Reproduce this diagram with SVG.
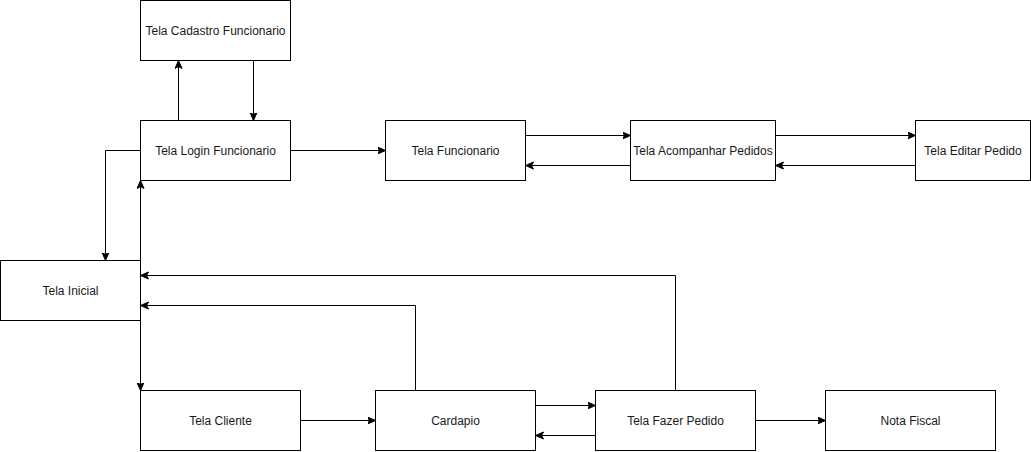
<svg xmlns="http://www.w3.org/2000/svg" width="1031" height="452" viewBox="0 0 1031 452">
<style>
.n rect{fill:#fff;stroke:#000;stroke-width:1}
.n text{font-family:"Liberation Sans",Arial,sans-serif;font-size:12px;fill:#1a1a1a;text-anchor:middle;dominant-baseline:central}
.e path{fill:none;stroke:#000;stroke-width:1;marker-end:url(#ah)}
</style>
<defs>
<marker id="ah" markerWidth="10" markerHeight="10" refX="8" refY="4" orient="auto" markerUnits="userSpaceOnUse">
<path d="M0,0.5 L8,4 L0,7.5 L2,4 Z" fill="#000" stroke="#000" stroke-width="1"/>
</marker>
</defs>
<rect width="1031" height="452" fill="#fff"/>
<g class="e" id="connectors">
<path d="M178.5,120.5 V60.5"/>
<path d="M253.5,60.5 V120.5"/>
<path d="M140.5,150.5 H105.5 V260.5"/>
<path d="M140.5,260.5 V180.5"/>
<path d="M140.5,320.5 V390.5"/>
<path d="M290.5,150.5 H385.5"/>
<path d="M525.5,135.5 H630.5"/>
<path d="M630.5,165.5 H525.5"/>
<path d="M775.5,135.5 H915.5"/>
<path d="M915.5,165.5 H775.5"/>
<path d="M415.5,390.5 V305.5 H140.5"/>
<path d="M675.5,390.5 V275.5 H140.5"/>
<path d="M300.5,420.5 H375.5"/>
<path d="M535.5,405.5 H595.5"/>
<path d="M595.5,435.5 H535.5"/>
<path d="M755.5,420.5 H825.5"/>
</g>
<g class="n" id="cadastro"><rect x="140.5" y="0.5" width="150" height="60"/><text x="215.5" y="30.5">Tela Cadastro Funcionario</text></g>
<g class="n" id="login"><rect x="140.5" y="120.5" width="150" height="60"/><text x="215.5" y="150.5">Tela Login Funcionario</text></g>
<g class="n" id="funcionario"><rect x="385.5" y="120.5" width="140" height="60"/><text x="455.5" y="150.5">Tela Funcionario</text></g>
<g class="n" id="acompanhar"><rect x="630.5" y="120.5" width="145" height="60"/><text x="703" y="150.5">Tela Acompanhar Pedidos</text></g>
<g class="n" id="editar"><rect x="915.5" y="120.5" width="115" height="60"/><text x="973" y="150.5">Tela Editar Pedido</text></g>
<g class="n" id="inicial"><rect x="0.5" y="260.5" width="140" height="60"/><text x="70.5" y="290.5">Tela Inicial</text></g>
<g class="n" id="cliente"><rect x="140.5" y="390.5" width="160" height="60"/><text x="220.5" y="420.5">Tela Cliente</text></g>
<g class="n" id="cardapio"><rect x="375.5" y="390.5" width="160" height="60"/><text x="455.5" y="420.5">Cardapio</text></g>
<g class="n" id="fazer"><rect x="595.5" y="390.5" width="160" height="60"/><text x="675.5" y="420.5">Tela Fazer Pedido</text></g>
<g class="n" id="nota"><rect x="825.5" y="390.5" width="170" height="60"/><text x="910.5" y="420.5">Nota Fiscal</text></g>
</svg>
